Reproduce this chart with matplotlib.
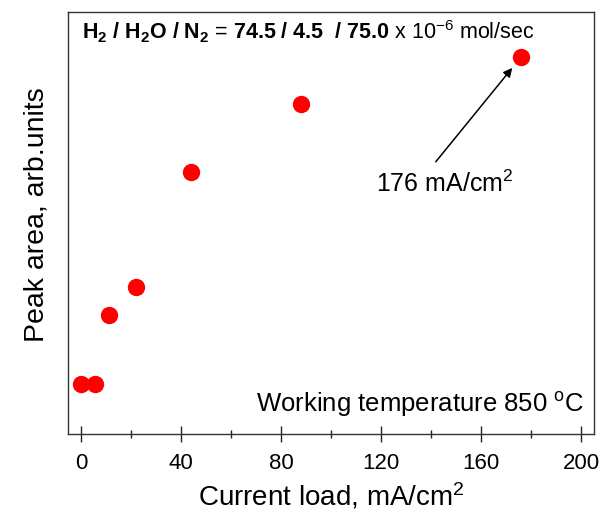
import matplotlib
matplotlib.use("Agg")
import matplotlib.pyplot as plt
from matplotlib.ticker import MultipleLocator

# data (peak area in arbitrary units)
current = [0, 5.5, 11, 22, 44, 88, 176]
peak_area = [11.8, 11.8, 28.2, 34.8, 62.1, 78.2, 89.3]
xticks = [0, 40, 80, 120, 160, 200]

plt.rcParams['font.family'] = ['Liberation Sans', 'DejaVu Sans']
plt.rcParams['mathtext.fontset'] = 'custom'
plt.rcParams['mathtext.rm'] = 'Liberation Sans'
plt.rcParams['mathtext.it'] = 'Liberation Sans:italic'
plt.rcParams['mathtext.bf'] = 'Liberation Sans:bold'

fig = plt.figure(figsize=(6.03, 5.23), dpi=100)
ax = fig.add_axes([0.1128, 0.1702, 0.8723, 0.8069])

ax.plot(current, peak_area, 'o', color='#ff0000', ms=12.5, mec='none')

ax.set_xlim(-5.2, 205.2)
ax.set_ylim(0, 100)
ax.set_xticks(xticks)
ax.xaxis.set_minor_locator(MultipleLocator(20))
ax.tick_params(axis='x', which='major', direction='inout', length=11, width=1,
               labelsize=16, pad=8, color='#222222')
ax.tick_params(axis='x', which='minor', direction='inout', length=6, width=1, color='#222222')
ax.set_yticks([])
for s in ax.spines.values():
    s.set_linewidth(1.0)
    s.set_color('#333333')

ax.set_xlabel(r"Current load, mA/cm$^2$", fontsize=20, labelpad=5)
ax.set_ylabel("Peak area, arb.units", fontsize=20.5)
ax.yaxis.set_label_coords(-0.036, 0.52)

ax.text(0.027, 0.985,
        r"$\mathbf{H_2\ /\ H_2O\ /\ N_2}\text{ = }\mathbf{74.5\ /\ 4.5\ \ /\ 75.0}$ x 10$^{-6}$ mol/sec",
        transform=ax.transAxes, ha='left', va='top', fontsize=15.5)
ax.text(0.981, 0.071, r"Working temperature 850 $^{\mathrm{o}}$C",
        transform=ax.transAxes, ha='right', va='center', fontsize=18.5)

ax.annotate("", xy=(current[-1], peak_area[-1]), xytext=(141.9, 64.5),
            arrowprops=dict(arrowstyle='-|>', color='k', lw=1.1, mutation_scale=13,
                            shrinkA=0, shrinkB=10))
ax.text(145.6, 59.2, r"176 mA/cm$^2$", ha='center', va='center', fontsize=18)

fig.savefig("out.png", dpi=100)
